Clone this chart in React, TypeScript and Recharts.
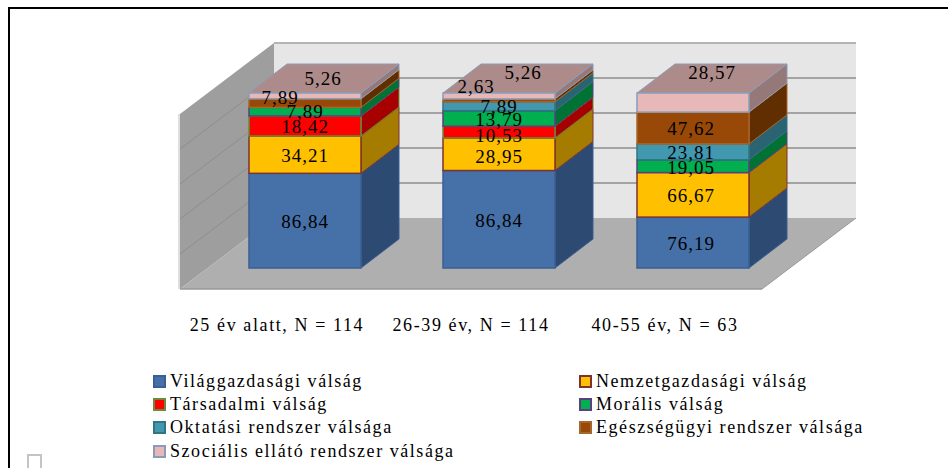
import React from 'react';
import { BarChart, Bar, XAxis, YAxis, Legend, LabelList, Customized } from 'recharts';

const categories = ['25 év alatt, N = 114', '26-39 év, N = 114', '40-55 év, N = 63'];
const vilaggazdasagi = [86.84, 86.84, 76.19];
const nemzetgazdasagi = [34.21, 28.95, 66.67];
const tarsadalmi = [18.42, 10.53, 0];
const moralis = [7.89, 13.79, 19.05];
const oktatasi = [0, 7.89, 23.81];
const egeszsegugyi = [7.89, 2.63, 47.62];
const szocialis = [5.26, 5.26, 28.57];
const gridTicks = [0, 0.2, 0.4, 0.6, 0.8, 1];

const series = [
  { key: 'a', name: 'Világgazdasági válság', values: vilaggazdasagi, fill: '#4570a8', stroke: '#3b5f92', side: '#2c4a72' },
  { key: 'b', name: 'Nemzetgazdasági válság', values: nemzetgazdasagi, fill: '#ffc000', stroke: '#7f3232', side: '#a67c00' },
  { key: 'c', name: 'Társadalmi válság', values: tarsadalmi, fill: '#ff0000', stroke: '#6a8a3c', side: '#a60000' },
  { key: 'd', name: 'Morális válság', values: moralis, fill: '#00b050', stroke: '#5a4080', side: '#007234' },
  { key: 'e', name: 'Oktatási rendszer válsága', values: oktatasi, fill: '#4198af', stroke: '#2f7585', side: '#2a6372' },
  { key: 'f', name: 'Egészségügyi rendszer válsága', values: egeszsegugyi, fill: '#984807', stroke: '#a8652c', side: '#602e00' },
  { key: 'g', name: 'Szociális ellátó rendszer válsága', values: szocialis, fill: '#e6b9b8', stroke: '#8c9cb8', side: '#957878' },
];

const tableData = categories.map((name, i) => {
  const row: any = { name };
  series.forEach((s) => (row[s.key] = s.values[i]));
  return row;
});

// hand moved labels, same order as series, one [dx, dy] per category
const labelNudges = [
  [[0, 1], [0, 1], [-2, 1]],
  [[0, 1], [0, 2], [-2, 1]],
  [[0, 1], [0, 3], [0, 0]],
  [[0, 0], [0, 1], [-2, 1]],
  [[0, 0], [0, 0], [-2, 1]],
  [[-25, -6], [-23, -14], [-2, 1]],
  [[18, -17], [24, -23], [19, -30]],
];

const FONT = '"Liberation Serif", "Times New Roman", serif';
const LEFT = 208;
const TOP = 93;
const PLOT_W = 582;
const PLOT_H = 175;
const BOTTOM = TOP + PLOT_H;
// bars stand 28/21 px behind the front edge of the floor, the wall 66/50 px behind them
const BACK_DX = 66;
const BACK_DY = 50;
const FRONT_DX = 28;
const FRONT_DY = 21;
const BAR_DX = 38;
const BAR_DY = 29;

const fmt = (v: number) => v.toFixed(2).replace('.', ',');

const Walls = () => {
  const backL = LEFT + BACK_DX;
  const backR = LEFT + PLOT_W + BACK_DX;
  const backB = BOTTOM - BACK_DY;
  const backT = backB - PLOT_H;
  const frontL = LEFT - FRONT_DX;
  const frontR = LEFT + PLOT_W - FRONT_DX;
  const frontB = BOTTOM + FRONT_DY;
  return (
    <g>
      <rect x={backL} y={backT} width={backR - backL} height={PLOT_H} fill="#e6e6e6" />
      <polygon
        points={`${frontL},${frontB - PLOT_H} ${backL},${backT} ${backL},${backB} ${frontL},${frontB}`}
        fill="#9e9e9e"
      />
      <line x1={frontL - 1} y1={frontB - PLOT_H} x2={frontL - 1} y2={frontB} stroke="#dedede" strokeWidth={2} />
      {gridTicks.slice(1).map((t) => {
        const y = backB - t * PLOT_H;
        return (
          <g key={t}>
            <line x1={backL} y1={y} x2={backR} y2={y} stroke={t === 1 ? '#b4b4b4' : '#a3a3a3'} strokeWidth={2} />
            {t < 1 && <line x1={frontL} y1={y + BACK_DY + FRONT_DY} x2={backL} y2={y} stroke="#8e8e8e" strokeWidth={1} />}
          </g>
        );
      })}
      <polygon
        points={`${frontL},${frontB} ${backL},${backB} ${backR},${backB} ${frontR},${frontB}`}
        fill="#afafaf"
      />
      <line x1={frontL} y1={frontB} x2={frontR} y2={frontB} stroke="#999" strokeWidth={1.5} />
      <line x1={frontR} y1={frontB} x2={backR} y2={backB} stroke="#999" strokeWidth={1} />
    </g>
  );
};

const boxShape = (s: any, isTop: boolean) => (props: any) => {
  const { x, y, width, height } = props;
  if (!height || height <= 0) return <g />;
  const r = x + width;
  const b = y + height;
  return (
    <g>
      <polygon
        points={`${r},${y} ${r + BAR_DX},${y - BAR_DY} ${r + BAR_DX},${b - BAR_DY} ${r},${b}`}
        fill={s.side}
        stroke={s.stroke}
        strokeWidth={1}
      />
      {isTop && (
        <polygon
          points={`${x},${y} ${x + BAR_DX},${y - BAR_DY} ${r + BAR_DX},${y - BAR_DY} ${r},${y}`}
          fill="#ad8b8a"
          stroke={s.stroke}
          strokeWidth={1}
        />
      )}
      <rect x={x} y={y} width={width} height={height} fill={s.fill} stroke={s.stroke} strokeWidth={1.5} />
    </g>
  );
};

const labelFor = (seriesIndex: number) => (props: any) => {
  const { x, y, width, height, index } = props;
  const v = series[seriesIndex].values[index];
  if (!v) return null;
  const [dx, dy] = labelNudges[seriesIndex][index];
  return (
    <text
      x={x + width / 2 + dx}
      y={y + height / 2 + dy}
      textAnchor="middle"
      dominantBaseline="central"
      fontFamily={FONT}
      fontSize={19}
      letterSpacing={1}
      fill="#000"
    >
      {fmt(v)}
    </text>
  );
};

const CategoryTick = ({ x, payload }: any) => (
  <text x={x - FRONT_DX} y={331} textAnchor="middle" fontFamily={FONT} fontSize={18} letterSpacing={1.6} fill="#000">
    {payload.value}
  </text>
);

const LegendBox = () => (
  <div style={{ display: 'grid', gridTemplateColumns: '426px 340px', gridAutoRows: '23.2px', fontFamily: FONT, fontSize: 18, letterSpacing: 1.55, color: '#000' }}>
    {series.map((s) => (
      <div key={s.key} style={{ display: 'flex', alignItems: 'center', whiteSpace: 'nowrap', lineHeight: '23px' }}>
        <span
          style={{ display: 'inline-block', width: 9, height: 9, border: `2.5px solid ${s.stroke}`, background: s.fill, marginRight: 4, flexShrink: 0 }}
        />
        {s.name}
      </div>
    ))}
  </div>
);

export default function App() {
  return (
    <div style={{ position: 'absolute', left: 0, top: 0, width: 948, height: 468, overflow: 'hidden', background: '#fff' }}>
      <div style={{ position: 'absolute', left: 8, top: 7, right: 0, bottom: 0, borderLeft: '2px solid #000', borderTop: '2px solid #000' }} />
      <div style={{ position: 'absolute', left: 27, top: 454, width: 11, height: 14, border: '2px solid #c4c4c4', borderBottom: 'none' }} />
      <div style={{ position: 'absolute', left: 0, top: 0 }}>
        <BarChart
          width={948}
          height={468}
          data={tableData}
          stackOffset="expand"
          margin={{ top: TOP, left: LEFT, right: 948 - LEFT - PLOT_W, bottom: 170 }}
        >
          <Customized component={Walls} />
          <XAxis dataKey="name" axisLine={false} tickLine={false} height={30} tick={<CategoryTick />} interval={0} />
          <YAxis hide domain={[0, 1]} ticks={gridTicks} />
          {series.map((s, i) => (
            <Bar
              key={s.key}
              dataKey={s.key}
              name={s.name}
              stackId="all"
              barSize={112}
              fill={s.fill}
              stroke={s.stroke}
              isAnimationActive={false}
              shape={boxShape(s, i === series.length - 1)}
            >
              <LabelList dataKey={s.key} content={labelFor(i)} />
            </Bar>
          ))}
          <Legend
            layout="horizontal"
            verticalAlign="middle"
            content={<LegendBox />}
            wrapperStyle={{ position: 'absolute', left: 153, top: 370, width: 770, bottom: 'auto' }}
          />
        </BarChart>
      </div>
    </div>
  );
}
